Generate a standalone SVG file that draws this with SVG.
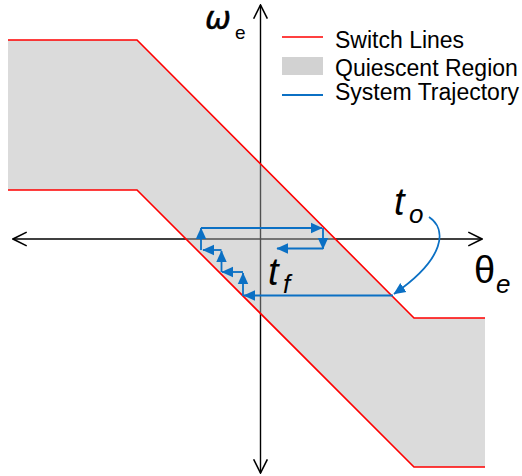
<svg xmlns="http://www.w3.org/2000/svg" width="522" height="476" viewBox="0 0 522 476">
  <style>
    .axis { stroke: #000; stroke-width: 1.4; fill: none; }
    .sw { stroke: #ff0000; stroke-width: 1.6; fill: none; }
    .traj { stroke: #0b70c4; stroke-width: 1.8; fill: none; marker-end: url(#ba); }
    .lbl { font-family: "Liberation Sans", Arial, sans-serif; fill: #000; }
    .leg { font-family: "Liberation Sans", Arial, sans-serif; font-size: 23px; fill: #000; }
  </style>
  <defs>
    <marker id="chev" markerUnits="userSpaceOnUse" markerWidth="16" markerHeight="16" viewBox="-13 -7 14 14" refX="0" refY="0" orient="auto-start-reverse">
      <path d="M-12,-6 L0,0 L-12,6" fill="none" stroke="#000" stroke-width="1.4"/>
    </marker>
    <marker id="ba" markerUnits="userSpaceOnUse" markerWidth="12" markerHeight="12" viewBox="0 0 10 9" refX="9.5" refY="4.5" orient="auto">
      <path d="M0,0 L10,4.5 L0,9 z" fill="#0b70c4"/>
    </marker>
  </defs>

  <g id="axes">
    <line class="axis" x1="13" y1="239" x2="482" y2="239" marker-start="url(#chev)" marker-end="url(#chev)"/>
    <line class="axis" x1="260.5" y1="5" x2="260.5" y2="473" marker-start="url(#chev)" marker-end="url(#chev)"/>
  </g>

  <g id="quiescent-region">
    <polygon points="8,40 137,40 414,318 485,318 485,467 414,467 137,190 8,190" fill="#b0b0b0" fill-opacity="0.456"/>
  </g>

  <g id="switch-lines">
    <polyline class="sw" points="8,40 137,40 414,318 485,318"/>
    <polyline class="sw" points="8,190 137,190 414,467 485,467"/>
  </g>

  <g id="connectors">
    <path class="traj" d="M429,217 C447,229 446,258 394,294"/>
    <path class="traj" d="M393,295.5 H244"/>
    <path class="traj" d="M243,296 V273"/>
    <path class="traj" d="M243,272 H222"/>
    <path class="traj" d="M221.5,272 V251"/>
    <path class="traj" d="M221.5,250 H203"/>
    <path class="traj" d="M201,250 V228"/>
    <path class="traj" d="M201,228 H322"/>
    <path class="traj" d="M323,228 V249"/>
    <path class="traj" d="M323,248.5 H277"/>
  </g>

  <g id="labels">
    <text x="205" y="29" font-family="'DejaVu Sans', sans-serif" font-size="31" font-style="italic" fill="#000" stroke="#000" stroke-width="0.5">ω</text>
    <text class="lbl" x="235" y="39" font-size="19">e</text>
    <text class="lbl" x="474" y="283" font-size="38">θ</text>
    <text class="lbl" x="496" y="293" font-size="26" font-style="italic">e</text>
    <text class="lbl" x="394" y="215" font-size="38" font-style="italic">t</text>
    <text class="lbl" x="409" y="223" font-size="26" font-style="italic">o</text>
    <text class="lbl" x="268" y="285" font-size="38" font-style="italic">t</text>
    <text class="lbl" x="283" y="293" font-size="26" font-style="italic">f</text>
  </g>

  <g id="legend">
    <line x1="282" y1="37" x2="323" y2="37" stroke="#ff0000" stroke-width="1.6"/>
    <text class="leg" x="335" y="48">Switch Lines</text>
    <rect x="282" y="57" width="41" height="18" fill="#d2d2d2"/>
    <text class="leg" x="335" y="76">Quiescent Region</text>
    <line x1="282" y1="95" x2="323" y2="95" stroke="#0b70c4" stroke-width="1.8"/>
    <text class="leg" x="335" y="100">System Trajectory</text>
  </g>
</svg>
